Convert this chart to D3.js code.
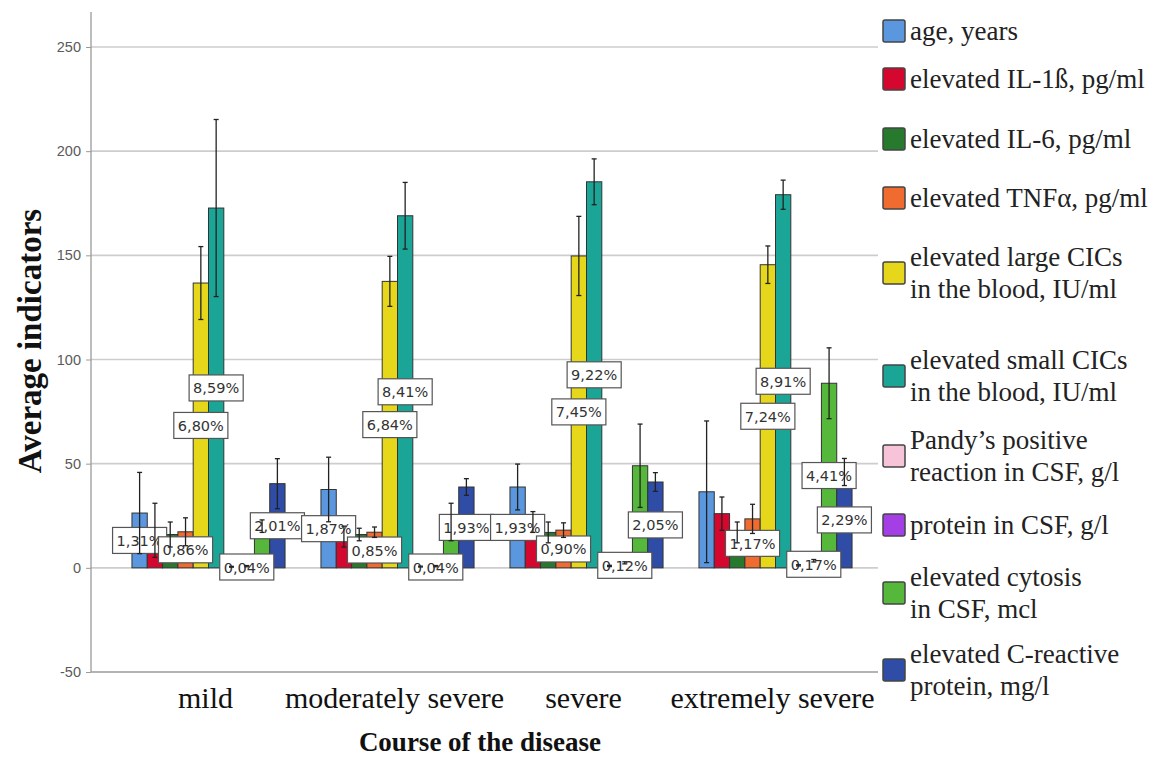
<!DOCTYPE html>
<html>
<head>
<meta charset="utf-8">
<script src="https://cdn.jsdelivr.net/npm/d3@7/dist/d3.min.js"></script>
<style>
  html, body { margin: 0; padding: 0; background: #fff; }
  svg { display: block; }
</style>
</head>
<body>
<svg id="chart" width="1157" height="760"></svg>
<script>
// Course of the disease groups
const categories = ["mild", "moderately severe", "severe", "extremely severe"];

// Series shown in each group (legend order)
const seriesNames = [
  "age, years",
  "elevated IL-1ß, pg/ml",
  "elevated IL-6, pg/ml",
  "elevated TNFα, pg/ml",
  "elevated large CICs\nin the blood, IU/ml",
  "elevated small CICs\nin the blood, IU/ml",
  "Pandy’s positive\nreaction in CSF, g/l",
  "protein in CSF, g/l",
  "elevated cytosis\nin CSF, mcl",
  "elevated C-reactive\nprotein, mg/l"
];
const seriesColors = ["#5b97de", "#d6072f", "#27792d", "#ef6b2f", "#e6d71a",
                      "#1ba596", "#f7c3d9", "#a43fe6", "#55b83a", "#2f4ca7"];

// Mean values per group
const ageMean      = [26.3, 37.6, 38.8, 36.5];
const il1Mean      = [18.0, 15.0, 22.0, 26.0];
const il6Mean      = [16.0, 16.0, 17.0, 17.0];
const tnfMean      = [17.3, 17.1, 18.1, 23.5];
const largeCicMean = [136.7, 137.5, 149.7, 145.5];
const smallCicMean = [172.7, 169.0, 185.3, 179.1];
const pandyMean    = [0.5, 0.6, 0.9, 1.2];
const proteinMean  = [0.8, 0.8, 2.4, 3.4];
const cytosisMean  = [20.0, 22.0, 49.0, 88.6];
const crpMean      = [40.4, 38.8, 41.2, 46.0];

// Error bar half-widths per group
const ageErr      = [19.5, 15.5, 11.0, 34.0];
const il1Err      = [13.0, 5.0, 5.0, 8.0];
const il6Err      = [6.0, 3.0, 5.0, 5.0];
const tnfErr      = [6.7, 2.5, 3.5, 7.0];
const largeCicErr = [17.5, 12.0, 19.0, 9.0];
const smallCicErr = [42.5, 16.0, 11.0, 7.0];
const pandyErr    = [0.2, 0.2, 0.3, 0.3];
const proteinErr  = [0.3, 0.3, 0.5, 0.6];
const cytosisErr  = [3.0, 9.0, 20.0, 17.0];
const crpErr      = [12.0, 4.0, 4.5, 6.5];

// Percentage labels (share of the grand total), null = not labelled
const ageLabels      = ["1,31%", "1,87%", "1,93%", null];
const il1Labels      = [null, null, null, null];
const il6Labels      = [null, null, null, null];
const tnfLabels      = ["0,86%", "0,85%", "0,90%", "1,17%"];
const largeCicLabels = ["6,80%", "6,84%", "7,45%", "7,24%"];
const smallCicLabels = ["8,59%", "8,41%", "9,22%", "8,91%"];
const pandyLabels    = [null, null, null, null];
const proteinLabels  = ["0,04%", "0,04%", "0,12%", "0,17%"];
const cytosisLabels  = [null, null, null, "4,41%"];
const crpLabels      = ["2,01%", "1,93%", "2,05%", "2,29%"];

const yTicks = [-50, 0, 50, 100, 150, 200, 250];

const means  = [ageMean, il1Mean, il6Mean, tnfMean, largeCicMean, smallCicMean, pandyMean, proteinMean, cytosisMean, crpMean];
const errs   = [ageErr, il1Err, il6Err, tnfErr, largeCicErr, smallCicErr, pandyErr, proteinErr, cytosisErr, crpErr];
const labels = [ageLabels, il1Labels, il6Labels, tnfLabels, largeCicLabels, smallCicLabels, pandyLabels, proteinLabels, cytosisLabels, crpLabels];

// Flat table: one row per (group, series)
const rows = [];
categories.forEach((c, gi) => {
  seriesNames.forEach((s, si) => {
    rows.push({ cat: c, series: si, value: means[si][gi], err: errs[si][gi], label: labels[si][gi] });
  });
});

const svg = d3.select("#chart");
const axisX = 91, plotRight = 878, plotTop = 12;
const serif = "Liberation Serif, Times New Roman, serif";

const y = d3.scaleLinear().domain([-50, 250]).range([672, 47]);
const x = d3.scaleBand().domain(categories).range([114, 870]).paddingInner(0.19).paddingOuter(0.095);
const xs = d3.scaleBand().domain(d3.range(seriesNames.length)).range([0, x.bandwidth()]);

// Gridlines
svg.append("g").selectAll("line")
  .data(yTicks.filter(t => t > -50))
  .join("line")
  .attr("x1", axisX).attr("x2", plotRight)
  .attr("y1", d => y(d)).attr("y2", d => y(d))
  .attr("stroke", "#cdcdcd").attr("stroke-width", 1.6);

// Y axis
const yAxis = d3.axisLeft(y).tickValues(yTicks).tickSize(5).tickPadding(5).tickFormat(d => String(d));
const yg = svg.append("g").attr("transform", `translate(${axisX},0)`).call(yAxis);
yg.select(".domain").remove();
yg.selectAll(".tick line").attr("stroke", "#9a9a9a");
yg.selectAll(".tick text").attr("font-family", "Liberation Sans, Arial, sans-serif")
  .attr("font-size", 14.5).attr("fill", "#5a5a5a");
svg.append("line").attr("x1", axisX).attr("x2", axisX).attr("y1", plotTop).attr("y2", y(-50))
  .attr("stroke", "#9a9a9a").attr("stroke-width", 1.3);
svg.append("line").attr("x1", axisX).attr("x2", plotRight).attr("y1", y(-50)).attr("y2", y(-50))
  .attr("stroke", "#9a9a9a").attr("stroke-width", 1.3);

// Bars
const barX = d => x(d.cat) + xs(d.series);
svg.append("g").selectAll("rect")
  .data(rows)
  .join("rect")
  .attr("x", barX)
  .attr("width", xs.bandwidth())
  .attr("y", d => y(Math.max(0, d.value)))
  .attr("height", d => Math.abs(y(d.value) - y(0)))
  .attr("fill", d => seriesColors[d.series])
  .attr("stroke", "#333").attr("stroke-width", 1);

// Value labels at bar mid-height
const lg = svg.append("g");
rows.filter(d => d.label).forEach(d => {
  const cx = barX(d) + xs.bandwidth() / 2;
  const cy = y(d.value / 2);
  const g = lg.append("g");
  const t = g.append("text").attr("x", cx).attr("y", cy + 5.5)
    .attr("text-anchor", "middle")
    .attr("font-family", "DejaVu Sans, sans-serif").attr("font-size", 14.5)
    .attr("fill", "#333").text(d.label);
  const w = t.node().getComputedTextLength() + 8;
  g.insert("rect", "text").attr("x", cx - w / 2).attr("y", cy - 13).attr("width", w).attr("height", 26)
    .attr("fill", "#fff").attr("stroke", "#555").attr("stroke-width", 1.2);
});

// Error bars (drawn above labels)
const eg = svg.append("g").attr("stroke", "#222").attr("stroke-width", 1.3);
rows.forEach(d => {
  const cx = barX(d) + xs.bandwidth() / 2;
  eg.append("line").attr("x1", cx).attr("x2", cx).attr("y1", y(d.value - d.err)).attr("y2", y(d.value + d.err));
  [d.value - d.err, d.value + d.err].forEach(v => {
    eg.append("line").attr("x1", cx - 2.5).attr("x2", cx + 2.5).attr("y1", y(v)).attr("y2", y(v));
  });
});

// Category labels
svg.append("g").selectAll("text")
  .data(categories)
  .join("text")
  .attr("x", d => x(d) + x.bandwidth() / 2 - 3)
  .attr("y", 708)
  .attr("text-anchor", "middle")
  .attr("font-family", serif)
  .attr("font-size", 30).attr("fill", "#111")
  .text(d => d);

// Axis titles
svg.append("text").attr("x", 480).attr("y", 751).attr("text-anchor", "middle")
  .attr("font-family", serif).attr("font-weight", "bold")
  .attr("font-size", 27).attr("fill", "#111").text("Course of the disease");
svg.append("text").attr("transform", "translate(41,341) rotate(-90)").attr("text-anchor", "middle")
  .attr("font-family", serif).attr("font-weight", "bold")
  .attr("font-size", 33).attr("fill", "#111").text("Average indicators");

// Legend
const legendY = [31, 79, 139, 198, 273, 376, 456, 525, 593, 670];
const leg = svg.append("g");
seriesNames.forEach((name, i) => {
  const cy = legendY[i];
  leg.append("rect").attr("x", 883).attr("y", cy - 11).attr("width", 22).attr("height", 22)
    .attr("rx", 2).attr("fill", seriesColors[i]).attr("stroke", "#444").attr("stroke-width", 1.5);
  const lines = name.split("\n");
  const t = leg.append("text").attr("font-family", serif)
    .attr("font-size", 27).attr("fill", "#222");
  const lh = 32;
  const first = cy + 9 - (lines.length - 1) * lh / 2;
  lines.forEach((ln, k) => {
    t.append("tspan").attr("x", 910).attr("y", first + k * lh).text(ln);
  });
});
</script>
</body>
</html>
